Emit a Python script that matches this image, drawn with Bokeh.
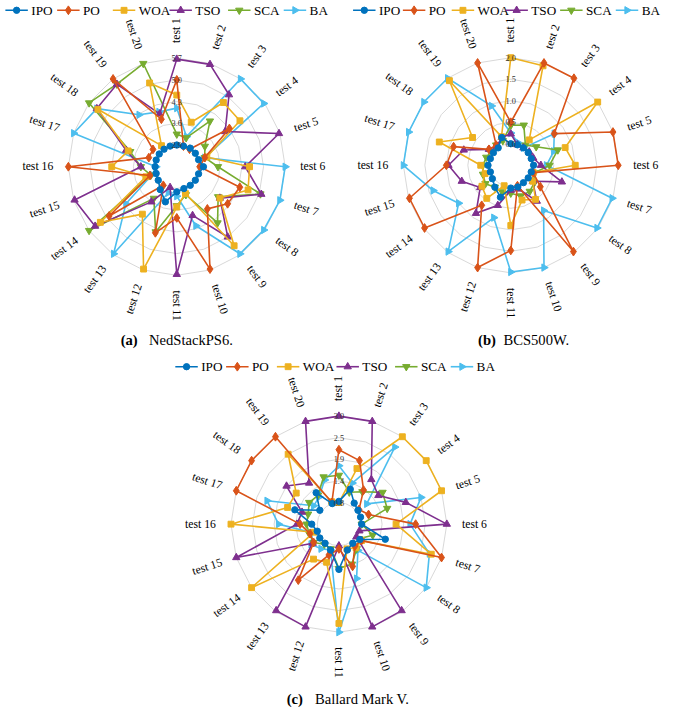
import math
from bokeh.plotting import figure
from bokeh.models import Range1d
from bokeh.core.properties import value
from bokeh.embed import file_html
from bokeh.resources import INLINE

# ---------------- data ----------------
tests = ["test %d" % i for i in range(1, 21)]
series = ["IPO", "PO", "WOA", "TSO", "SCA", "BA"]
colors = ["#0072BD", "#D95319", "#EDB120", "#7E2F8E", "#77AC30", "#4DBEEE"]

# (a) NedStackPS6, radial axis 2.2 .. 5.7
ned_axis = [2.2, 5.7]
ned_ipo = [2.90, 2.90, 2.94, 2.94, 2.94, 3.06, 2.94, 2.94, 2.94, 2.94, 3.01, 3.39, 3.11, 2.94, 2.90, 2.90, 2.90, 2.90, 2.90, 2.90]
ned_po = [5.00, 2.90, 2.90, 4.30, 3.15, 2.94, 4.34, 4.23, 3.88, 5.67, 3.85, 4.44, 2.94, 4.90, 3.11, 5.70, 3.15, 3.15, 5.70, 3.81]
ned_woa = [4.51, 3.71, 4.76, 4.72, 3.22, 4.55, 4.62, 3.92, 5.35, 3.11, 3.50, 5.67, 4.09, 5.25, 3.25, 4.30, 3.85, 5.35, 3.04, 5.04]
ned_tso = [5.67, 5.67, 5.07, 4.13, 5.67, 4.41, 5.07, 3.92, 5.00, 3.85, 5.67, 2.90, 3.60, 5.46, 5.67, 3.36, 3.92, 5.39, 5.49, 3.99]
ned_sca = [3.25, 3.18, 4.02, 3.32, 3.15, 3.53, 5.04, 3.85, 4.44, 3.15, 3.46, 4.41, 3.46, 5.70, 3.08, 3.36, 3.78, 5.70, 5.49, 5.70]
ned_ba = [4.09, 3.22, 5.70, 5.67, 3.15, 5.70, 5.70, 5.67, 5.67, 4.20, 3.15, 3.08, 5.67, 4.23, 3.04, 2.87, 5.70, 5.39, 4.27, 4.06]

# (b) BCS500W, radial axis -0.5 .. 2.0
bcs_axis = [-0.5, 2.0]
bcs_ipo = [0.00, 0.00, 0.00, 0.00, 0.00, 0.03, 0.00, 0.00, 0.00, 0.03, 0.03, 0.28, 0.13, 0.03, 0.00, 0.03, 0.00, 0.00, 0.00, 0.18]
bcs_po = [0.50, 2.00, 2.00, 0.75, 2.00, 2.00, 0.05, 0.35, 1.98, 0.00, 1.48, 2.00, 0.65, 1.98, 1.98, 1.00, 0.90, 0.13, 0.08, 2.00]
bcs_woa = [2.00, 1.93, 0.23, 2.00, 0.83, 1.00, 0.05, 0.13, 0.48, 0.35, 0.90, 0.00, 0.45, 0.33, 0.13, 0.20, 1.25, 0.60, 1.93, 0.20]
bcs_tso = [0.23, 0.00, 0.00, 0.03, 0.05, 0.20, 0.75, 0.13, 0.53, 0.08, 0.08, 0.48, 0.88, 0.38, 0.70, 0.95, 0.65, 0.13, 0.05, 0.18]
bcs_sca = [0.43, 0.48, 0.08, 0.23, 0.65, 0.40, 0.08, 0.18, 0.25, 0.25, 0.15, 0.15, 0.13, 0.23, 0.18, 0.15, 0.10, 0.05, 0.08, 0.10]
bcs_ba = [0.25, 0.05, 0.00, 0.75, 0.55, 0.33, 1.98, 1.98, 0.80, 2.00, 1.98, 0.78, 1.98, 1.00, 1.40, 2.00, 2.00, 2.00, 2.00, 0.95]

# (c) Ballard Mark V, radial axis 0.3 .. 3.0
bal_axis = [0.3, 3.0]
bal_ipo = [0.87, 1.22, 0.95, 0.89, 0.87, 0.87, 1.52, 0.95, 0.89, 0.98, 1.43, 0.98, 0.89, 0.89, 0.87, 0.98, 1.46, 0.89, 1.27, 0.84]
bal_po = [2.16, 1.97, 1.35, 0.92, 1.08, 2.22, 3.00, 1.00, 0.98, 1.41, 0.92, 1.11, 2.03, 1.08, 1.06, 1.27, 3.00, 3.00, 3.00, 0.87]
bal_woa = [0.84, 1.76, 3.00, 3.00, 3.00, 1.73, 2.73, 1.00, 1.03, 0.95, 2.78, 1.30, 1.38, 3.00, 0.95, 3.00, 1.65, 1.62, 2.46, 0.89]
bal_tso = [3.00, 3.00, 1.68, 1.52, 2.06, 3.00, 0.84, 0.84, 2.97, 3.00, 0.84, 3.00, 2.97, 1.11, 3.00, 1.35, 1.27, 1.92, 1.57, 3.00]
bal_sca = [1.52, 1.14, 1.30, 1.65, 1.57, 0.87, 1.19, 0.92, 1.06, 1.35, 1.41, 0.95, 0.92, 1.08, 1.08, 1.11, 1.11, 1.22, 1.19, 1.54]
bal_ba = [1.76, 1.38, 2.68, 1.16, 2.46, 2.08, 2.68, 3.00, 1.11, 1.73, 3.00, 0.98, 1.06, 1.16, 1.00, 1.81, 2.19, 1.08, 1.14, 1.46]

captions = [("(a)", "NedStackPS6."), ("(b)", "BCS500W."), ("(c)", "Ballard Mark V.")]

# ---------------- figure ----------------
W, H = 669, 707
REF_W, REF_H = 685, 723
K = W / REF_W
FONT = "Liberation Serif"


def px(s):
    return "%.1fpx" % (s * K)


p = figure(width=W, height=H, output_backend="svg", toolbar_location=None,
           x_range=Range1d(0, REF_W), y_range=Range1d(REF_H, 0),
           min_border=0, outline_line_color=None)
p.axis.visible = False
p.grid.visible = False
p.background_fill_color = "white"

markers = [
    dict(marker="circle", size=6.5, angle=0.0),
    dict(marker="diamond", size=9, angle=0.0),
    dict(marker="square", size=6, angle=0.0),
    dict(marker="triangle", size=7.5, angle=0.0),
    dict(marker="inverted_triangle", size=7.5, angle=0.0),
    dict(marker="triangle", size=7.5, angle=-math.pi / 2),
]

N = len(tests)


def pt(cx, cy, r, k):
    phi = math.radians(360.0 * k / N)
    return cx + r * math.sin(phi), cy - r * math.cos(phi)


def radar(cx, cy, R, axis, data, legend_y, legend_x, cap_y, cap_x, cap):
    vmin, vmax = axis
    # grid rings (polygons)
    for j in range(1, 6):
        r = R * j / 5
        xs, ys = [], []
        for k in range(N + 1):
            x, y = pt(cx, cy, r, k % N)
            xs.append(x)
            ys.append(y)
        p.line(xs, ys, line_color="#d4d4d4", line_width=0.9)
    # category labels
    for k, lab in enumerate(tests):
        x, y = pt(cx, cy, R + 15.5, k)
        if k <= 10:
            ang = 90 - 18 * k
            align = "left"
        else:
            ang = 270 - 18 * k
            align = "right"
        p.text(x=[x], y=[y], text=[lab], angle=math.radians(ang),
               text_align=align, text_baseline="middle",
               text_font=value(FONT), text_font_size=px(12), text_color="black")
    # series (draw BA first so IPO ends on top)
    order = list(range(len(series)))[::-1]
    for i in order:
        vals = data[i]
        xs, ys = [], []
        for k, v in enumerate(vals):
            f = (v - vmin) / (vmax - vmin)
            x, y = pt(cx, cy, R * f, k)
            xs.append(x)
            ys.append(y)
        p.line(xs + [xs[0]], ys + [ys[0]], line_color=colors[i], line_width=1.6)
        m = markers[i]
        p.scatter(xs, ys, marker=m["marker"], size=m["size"] * K, angle=m["angle"],
                  fill_color=colors[i], line_color=colors[i])
    # ring value labels
    for j in range(1, 6):
        v = vmin + (vmax - vmin) * j / 5
        p.text(x=[cx], y=[cy - R * j / 5], text=["%.1f" % v],
               text_align="center", text_baseline="middle",
               text_font=value(FONT), text_font_size=px(8.5), text_color="#333333")
    # legend
    for i, name in enumerate(series):
        x0 = legend_x[i]
        p.line([x0, x0 + 23], [legend_y, legend_y], line_color=colors[i], line_width=1.6)
        m = markers[i]
        p.scatter([x0 + 11.5], [legend_y], marker=m["marker"], size=m["size"] * K,
                  angle=m["angle"], fill_color=colors[i], line_color=colors[i])
        p.text(x=[x0 + 26.5], y=[legend_y], text=[name], text_align="left",
               text_baseline="middle", text_font=value(FONT),
               text_font_size=px(13.5), text_color="black")
    # caption
    p.text(x=[cap_x[0]], y=[cap_y], text=[cap[0]], text_align="left",
           text_baseline="middle", text_font=value(FONT), text_font_style="bold",
           text_font_size=px(15), text_color="black")
    p.text(x=[cap_x[1]], y=[cap_y], text=[cap[1]], text_align="left",
           text_baseline="middle", text_font=value(FONT),
           text_font_size=px(15), text_color="black")


radar(180.5, 170.0, 111.0, ned_axis,
      [ned_ipo, ned_po, ned_woa, ned_tso, ned_sca, ned_ba],
      10, [5, 58, 115, 173, 233, 290], 347, [123, 152], captions[0])
radar(522.5, 168.5, 110.0, bcs_axis,
      [bcs_ipo, bcs_po, bcs_woa, bcs_tso, bcs_sca, bcs_ba],
      10, [361, 412, 462, 517, 573, 630], 347, [489, 515], captions[1])
radar(346.5, 535.5, 110.5, bal_axis,
      [bal_ipo, bal_po, bal_woa, bal_tso, bal_sca, bal_ba],
      374.5, [179, 231, 283, 344, 404, 461], 714, [293, 322], captions[2])

open("out.html", "w").write(file_html(p, INLINE))
